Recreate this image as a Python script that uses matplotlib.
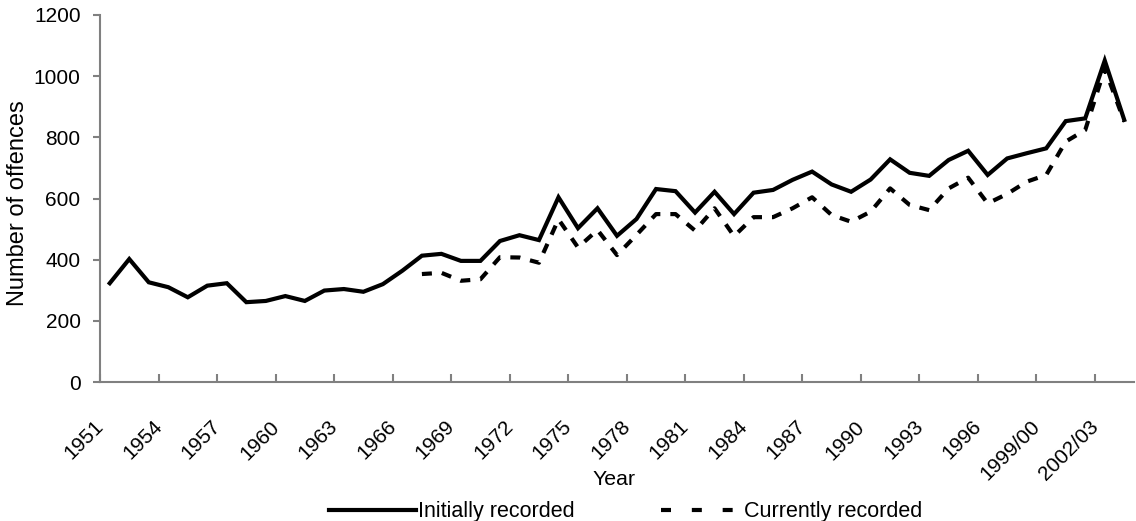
import matplotlib
matplotlib.use("Agg")
import matplotlib.pyplot as plt
import matplotlib.transforms as mtransforms
from matplotlib.lines import Line2D

plt.rcParams['font.family'] = ['Liberation Sans', 'DejaVu Sans']

# years: 1951-1996 calendar, then financial years
years = [str(y) for y in range(1951, 1997)] + [
    '1997/98', '1998/99', '1999/00', '2000/01', '2001/02', '2002/03', '2003/04']

initially = [323, 402, 326, 310, 277, 315, 323, 261, 265, 281,
             265, 299, 304, 295, 320, 364, 413, 419, 396, 396,
             461, 480, 464, 604, 503, 568, 478, 533, 631, 624,
             554, 622, 549, 619, 628, 661, 688, 646, 622, 662,
             728, 684, 674, 726, 756, 677, 731, 748, 764, 853,
             862, 1051, 857]

# currently recorded series starts in 1967
currently = [None] * 16 + [
             353, 357, 331, 336,
             408, 407, 390, 532, 440, 497, 415, 481, 549, 549,
             495, 568, 477, 539, 539, 568, 604, 546, 524, 557,
             633, 579, 562, 633, 668, 584, 615, 655, 677, 786,
             824, 1025, 852]

x = list(range(len(years)))
cur_x = [i for i, v in zip(x, currently) if v is not None]
cur_y = [v for v in currently if v is not None]

fig = plt.figure(figsize=(11.36, 5.21), dpi=100)
ax = fig.add_axes([100/1136, 1-382/521, 1034/1136, 367/521])

ax.plot(x, initially, color='black', lw=3, solid_joinstyle='miter')
ax.plot(cur_x, cur_y, color='black', lw=3, linestyle=(0, (2.4, 2.4)))

ax.set_xlim(-0.5, len(years) - 0.5)
ax.set_ylim(0, 1200)
ax.set_yticks(range(0, 1201, 200))

# labels on category centres, tick marks on category boundaries
ax.set_xticks(x[::3])
ax.set_xticklabels(years[::3], rotation=45, ha='right', rotation_mode='anchor')
ax.set_xticks([i - 0.5 for i in range(0, len(years) + 1, 3)], minor=True)
ax.tick_params(axis='x', which='major', length=0, pad=0, labelsize=15)
ax.tick_params(axis='x', which='minor', direction='in', length=6, color='#808080', width=1.5)
ax.tick_params(axis='y', direction='out', length=5, color='#808080', width=1.5,
               labelsize=15, pad=9)

shift = mtransforms.ScaledTranslation(-16/100, -35/100, fig.dpi_scale_trans)
for lab in ax.get_xticklabels():
    lab.set_transform(lab.get_transform() + shift)

for side in ['top', 'right']:
    ax.spines[side].set_visible(False)
for side in ['left', 'bottom']:
    ax.spines[side].set_color('#808080')
    ax.spines[side].set_linewidth(1.5)

ax.set_ylabel('Number of offences', fontsize=17)
ax.yaxis.set_label_coords(-0.069, 0.488)
ax.set_xlabel('Year', fontsize=15.3)
ax.xaxis.set_label_coords(0.497, -0.24)

handles = [Line2D([], [], color='black', lw=3),
           Line2D([], [], color='black', lw=3, linestyle=(6.2, (2.4, 5.0)))]
fig.legend(handles, ['Initially recorded', 'Currently recorded'],
           loc='center', bbox_to_anchor=(626/1136, 1-512/521), ncol=2,
           frameon=False, fontsize=15.5, handlelength=4.0, handletextpad=0.1,
           columnspacing=3.8, borderpad=0, borderaxespad=0)

fig.savefig('out.png', dpi=100)
